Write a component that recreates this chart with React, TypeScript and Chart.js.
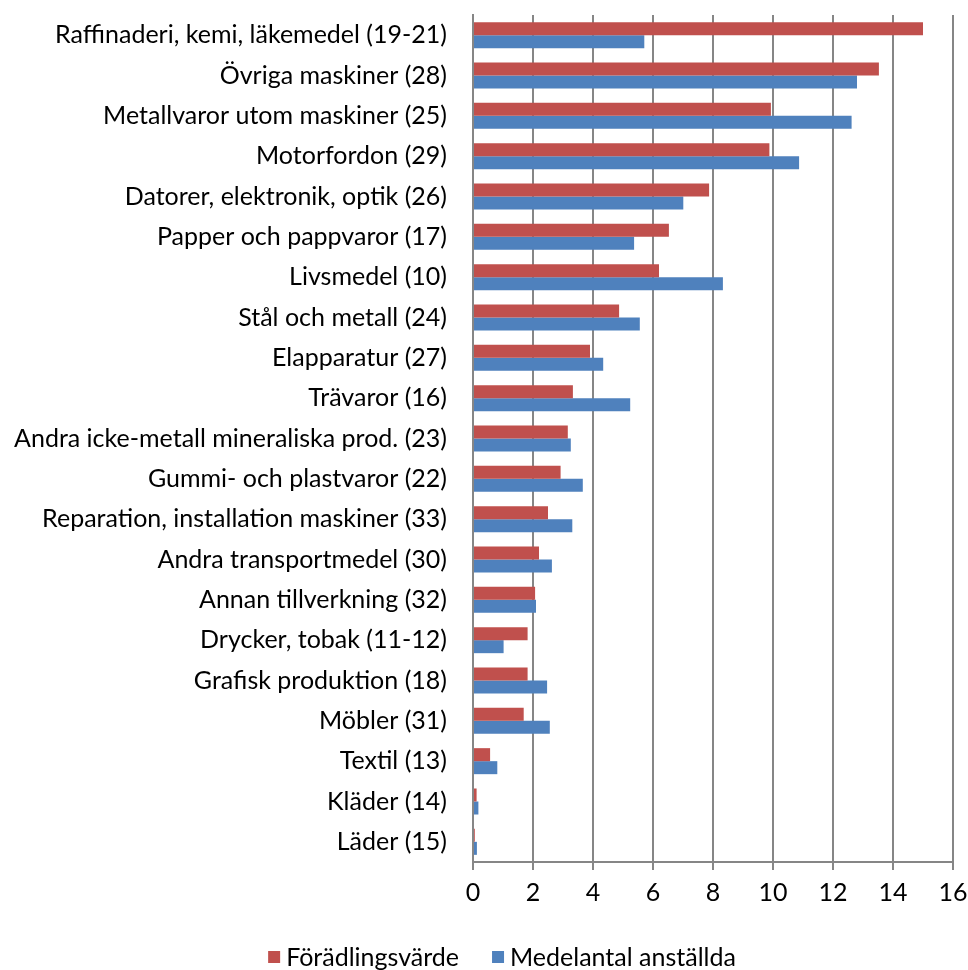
import React, { useEffect, useRef } from 'react';
import { Chart, registerables } from 'chart.js';

Chart.register(...registerables);

const categories = [
  'Raffinaderi, kemi, läkemedel (19-21)',
  'Övriga maskiner (28)',
  'Metallvaror utom maskiner (25)',
  'Motorfordon (29)',
  'Datorer, elektronik, optik (26)',
  'Papper och pappvaror (17)',
  'Livsmedel (10)',
  'Stål och metall (24)',
  'Elapparatur (27)',
  'Trävaror (16)',
  'Andra icke-metall mineraliska prod. (23)',
  'Gummi- och plastvaror (22)',
  'Reparation, installation maskiner (33)',
  'Andra transportmedel (30)',
  'Annan tillverkning (32)',
  'Drycker, tobak (11-12)',
  'Grafisk produktion (18)',
  'Möbler (31)',
  'Textil (13)',
  'Kläder (14)',
  'Läder (15)',
];

const foradlingsvarde = [
  15.0, 13.53, 9.93, 9.88, 7.87, 6.53, 6.2, 4.87, 3.9, 3.33, 3.16, 2.92, 2.5,
  2.2, 2.07, 1.82, 1.82, 1.69, 0.57, 0.12, 0.06,
];

const medelantal = [
  5.71, 12.8, 12.62, 10.87, 7.01, 5.37, 8.33, 5.56, 4.34, 5.24, 3.26, 3.66,
  3.31, 2.63, 2.1, 1.02, 2.47, 2.56, 0.81, 0.18, 0.13,
];

const seriesNames = ['Förädlingsvärde', 'Medelantal anställda'];
const xMin = 0;
const xMax = 16;
const xStep = 2;

const FONT_FAMILY = 'Lato, "Open Sans", sans-serif';
const FONT_SIZE = 25;
const GRID = '#868686';

const legendPlugin = {
  id: 'bottomLegend',
  afterDraw(chart: any) {
    const ctx = chart.ctx as CanvasRenderingContext2D;
    ctx.save();
    ctx.font = `${FONT_SIZE}px ${FONT_FAMILY}`;
    ctx.textBaseline = 'middle';
    const box = 12;
    const gap = 6;
    const itemGap = 33;
    const centerX = 502;
    const y = 957;
    const items = chart.data.datasets.map((ds: any) => ({
      label: ds.label as string,
      color: ds.backgroundColor as string,
      w: ctx.measureText(ds.label).width,
    }));
    const total =
      items.reduce((s: number, it: any) => s + box + gap + it.w, 0) +
      itemGap * (items.length - 1);
    let x = centerX - total / 2;
    items.forEach((it: any) => {
      ctx.fillStyle = it.color;
      ctx.fillRect(x, y - box / 2, box, box);
      x += box + gap;
      ctx.fillStyle = '#000';
      ctx.fillText(it.label, x, y + 1);
      x += it.w + itemGap;
    });
    ctx.restore();
  },
};

export default function App() {
  const ref = useRef<HTMLCanvasElement>(null);

  useEffect(() => {
    if (!ref.current) return;
    const font = { family: FONT_FAMILY, size: FONT_SIZE };
    const chart = new Chart(ref.current, {
      type: 'bar',
      data: {
        labels: categories,
        datasets: [
          {
            label: seriesNames[0],
            data: foradlingsvarde,
            backgroundColor: '#C0504D',
            borderWidth: 0,
            categoryPercentage: 0.645,
            barPercentage: 1.0,
          },
          {
            label: seriesNames[1],
            data: medelantal,
            backgroundColor: '#4F81BD',
            borderWidth: 0,
            categoryPercentage: 0.645,
            barPercentage: 1.0,
          },
        ],
      },
      options: {
        indexAxis: 'y',
        animation: false,
        responsive: false,
        maintainAspectRatio: false,
        devicePixelRatio: 1,
        layout: { padding: { left: 0, right: 15, top: 15, bottom: 48 } },
        plugins: {
          legend: { display: false },
          tooltip: { enabled: false },
        },
        scales: {
          x: {
            min: xMin,
            max: xMax,
            ticks: {
              stepSize: xStep,
              font: { family: FONT_FAMILY, size: FONT_SIZE, lineHeight: 1.8 },
              color: '#000',
              padding: 0,
            },
            grid: {
              color: GRID,
              lineWidth: 2,
              drawTicks: true,
              tickLength: 8,
              tickColor: GRID,
            },
            border: { color: GRID, width: 2 },
            afterFit: (scale: any) => {
              scale.height = 60;
            },
          },
          y: {
            ticks: { font, color: '#000', padding: 0 },
            grid: {
              drawOnChartArea: false,
              drawTicks: true,
              tickLength: 26,
              tickColor: 'rgba(0,0,0,0)',
            },
            border: { color: GRID, width: 2 },
            afterFit: (scale: any) => {
              scale.width = 473;
            },
          },
        },
      },
      plugins: [legendPlugin],
    });
    return () => chart.destroy();
  }, []);

  return (
    <div style={{ position: 'absolute', left: 0, top: 0, width: 968, height: 970, background: '#fff' }}>
      <canvas ref={ref} width={968} height={970} />
    </div>
  );
}
